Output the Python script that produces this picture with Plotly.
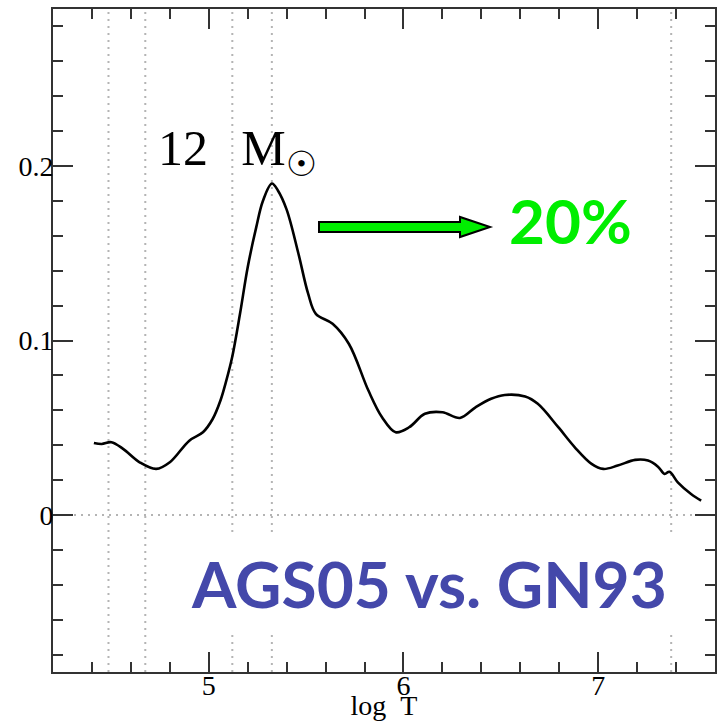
import plotly.graph_objects as go

# Relative opacity difference profile of a 12 Msun model vs. log T
log_T = [4.41, 4.45, 4.50, 4.56, 4.645, 4.73, 4.80, 4.90, 4.97, 5.02, 5.06, 5.09,
         5.12, 5.16, 5.20, 5.244, 5.278, 5.324, 5.355, 5.40, 5.46, 5.51, 5.55,
         5.636, 5.72, 5.82, 5.89, 5.96, 6.03, 6.11, 6.20, 6.29, 6.37, 6.45, 6.52,
         6.625, 6.69, 6.795, 6.88, 6.966, 7.026, 7.10, 7.19, 7.256, 7.307, 7.341,
         7.366, 7.409, 7.477, 7.529]
delta = [0.0413, 0.0407, 0.0417, 0.0379, 0.0302, 0.0264, 0.0302, 0.0426, 0.0474,
         0.0550, 0.0656, 0.0770, 0.0904, 0.1150, 0.1420, 0.1650, 0.1800, 0.1900,
         0.1860, 0.1750, 0.1500, 0.1270, 0.1153, 0.1096, 0.0980, 0.0713, 0.0560,
         0.0474, 0.0503, 0.0580, 0.0589, 0.0556, 0.0617, 0.0666, 0.0688, 0.0679,
         0.0637, 0.0503, 0.0388, 0.0293, 0.0264, 0.0283, 0.0316, 0.0312, 0.0277,
         0.0235, 0.0248, 0.0187, 0.0120, 0.0082]

# Reference temperatures marked with dotted verticals
zone_logT = [4.485, 4.674, 5.121, 5.324, 7.375]

x_tick_vals = [5, 6, 7]
x_tick_text = ["5", "6", "7"]
y_tick_vals = [0, 0.1, 0.2]
y_tick_text = ["0", "0.1", "0.2"]

W, H = 717, 721
M_L, M_R, M_T, M_B = 53, 2, 9, 49
PW, PH = W - M_L - M_R, H - M_T - M_B


def paper(px, py):
    """Pixel position in the page -> paper coordinates of the plot area."""
    return (px - M_L) / PW, (H - M_B - py) / PH


AXIS_COL = "#333333"
GRID_COL = "#b4b4b4"
SERIF = "Liberation Serif, Times New Roman, serif"
SANS_BOLD = "Lato, Open Sans, sans-serif"

fig = go.Figure()
fig.add_trace(go.Scatter(
    x=log_T, y=delta, mode="lines",
    line=dict(color="black", width=2.6, shape="spline", smoothing=1.0),
    hoverinfo="skip",
))

shapes = []
for xv in zone_logT:
    shapes.append(dict(type="line", xref="x", yref="paper", x0=xv, x1=xv, y0=0, y1=1,
                       line=dict(color=GRID_COL, width=2, dash="2px,5px"), layer="below"))
shapes.append(dict(type="line", xref="paper", yref="y", x0=0, x1=1, y0=0, y1=0,
                   line=dict(color=GRID_COL, width=2, dash="2px,5px"), layer="below"))

# white panel behind the comparison label
bx0, by0 = paper(180, 632)
bx1, by1 = paper(678, 532)
shapes.append(dict(type="rect", xref="paper", yref="paper", x0=bx0, x1=bx1, y0=by0, y1=by1,
                   fillcolor="white", line=dict(width=0), layer="below"))

# block arrow pointing to the percentage label
arrow_px = [(319, 222), (460, 222), (460, 217), (490, 227), (460, 237), (460, 232), (319, 232)]
pts = [paper(px, py) for px, py in arrow_px]
path = "M " + " L ".join(f"{x:.5f},{y:.5f}" for x, y in pts) + " Z"
shapes.append(dict(type="path", xref="paper", yref="paper", path=path,
                   fillcolor="#00ee00", line=dict(color="black", width=2), layer="above"))

annotations = []
ax, ay = paper(156, 152)
annotations.append(dict(
    xref="paper", yref="paper", x=ax, y=ay, xanchor="left", yanchor="middle",
    text="12\u00a0\u00a0\u2006M<sub><span style=\"font-family:DejaVu Sans\">\u2609</span></sub>",
    showarrow=False, font=dict(family=SERIF, size=50, color="black"),
))
ax, ay = paper(507, 220)
annotations.append(dict(
    xref="paper", yref="paper", x=ax, y=ay, xanchor="left", yanchor="middle",
    text="<b>20%</b>", showarrow=False,
    font=dict(family=SANS_BOLD, size=62, color="#00ee00"),
))
ax, ay = paper(189, 583)
annotations.append(dict(
    xref="paper", yref="paper", x=ax, y=ay, xanchor="left", yanchor="middle",
    text="<b>AGS05 vs. GN93</b>", showarrow=False,
    font=dict(family=SANS_BOLD, size=64, color="#4448aa"),
))

axis_common = dict(
    showline=True, linecolor=AXIS_COL, linewidth=2, mirror="allticks",
    ticks="inside", ticklen=20, tickwidth=2, tickcolor=AXIS_COL,
    showgrid=False, zeroline=False,
    tickfont=dict(family=SERIF, size=28, color="black"),
)

fig.update_layout(
    width=W, height=H, autosize=False,
    margin=dict(l=M_L, r=M_R, t=M_T, b=M_B, pad=0),
    plot_bgcolor="white", paper_bgcolor="white",
    showlegend=False,
    shapes=shapes, annotations=annotations,
    xaxis=dict(
        range=[4.2, 7.6], tickmode="array", tickvals=x_tick_vals, ticktext=x_tick_text,
        minor=dict(tickmode="linear", tick0=0, dtick=0.2, ticks="inside", ticklen=10,
                   tickwidth=2, tickcolor=AXIS_COL),
        ticklabelstandoff=-13,
        title=dict(text="log\u00a0\u00a0T", font=dict(family=SERIF, size=28, color="black"),
                   standoff=0),
        automargin=False,
        **axis_common,
    ),
    yaxis=dict(
        range=[-0.09, 0.29], tickmode="array", tickvals=y_tick_vals, ticktext=y_tick_text,
        minor=dict(tickmode="linear", tick0=0, dtick=0.02, ticks="inside", ticklen=10,
                   tickwidth=2, tickcolor=AXIS_COL),
        ticklabelstandoff=-8,
        automargin=False,
        **axis_common,
    ),
)

fig.write_html("out.html")
